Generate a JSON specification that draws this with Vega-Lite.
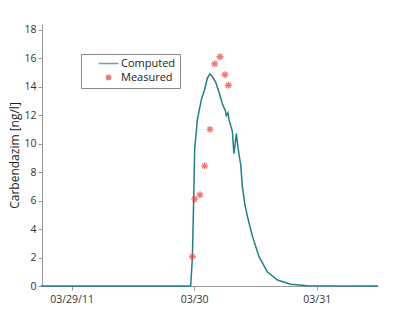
{
  "$schema": "https://vega.github.io/schema/vega-lite/v6.json",
  "autosize": "none",
  "width": 336,
  "height": 262,
  "padding": {"left": 42, "top": 24, "right": 22, "bottom": 39},
  "background": "white",
  "config": {
    "view": {"stroke": null},
    "font": "Open Sans",
    "axis": {"domainColor": "#999", "tickColor": "#999", "tickSize": 4, "labelColor": "#333", "labelFontSize": 10.5, "titleColor": "#222", "grid": false}
  },
  "datasets": {
    "computed": [
      {"t": "2011-03-28T18:00:00Z", "v": 0, "series": "Computed"},
      {"t": "2011-03-29T23:19:00Z", "v": 0, "series": "Computed"},
      {"t": "2011-03-29T23:39:00Z", "v": 2.0, "series": "Computed"},
      {"t": "2011-03-29T23:50:00Z", "v": 4.9, "series": "Computed"},
      {"t": "2011-03-29T23:58:00Z", "v": 7.2, "series": "Computed"},
      {"t": "2011-03-30T00:06:00Z", "v": 9.6, "series": "Computed"},
      {"t": "2011-03-30T00:38:00Z", "v": 11.7, "series": "Computed"},
      {"t": "2011-03-30T01:25:00Z", "v": 13.1, "series": "Computed"},
      {"t": "2011-03-30T02:03:00Z", "v": 13.8, "series": "Computed"},
      {"t": "2011-03-30T02:35:00Z", "v": 14.6, "series": "Computed"},
      {"t": "2011-03-30T03:06:00Z", "v": 14.9, "series": "Computed"},
      {"t": "2011-03-30T03:34:00Z", "v": 14.7, "series": "Computed"},
      {"t": "2011-03-30T04:13:00Z", "v": 14.3, "series": "Computed"},
      {"t": "2011-03-30T04:52:00Z", "v": 13.6, "series": "Computed"},
      {"t": "2011-03-30T05:31:00Z", "v": 12.8, "series": "Computed"},
      {"t": "2011-03-30T06:10:00Z", "v": 12.25, "series": "Computed"},
      {"t": "2011-03-30T06:18:00Z", "v": 11.95, "series": "Computed"},
      {"t": "2011-03-30T06:37:00Z", "v": 12.15, "series": "Computed"},
      {"t": "2011-03-30T06:49:00Z", "v": 11.7, "series": "Computed"},
      {"t": "2011-03-30T07:29:00Z", "v": 10.85, "series": "Computed"},
      {"t": "2011-03-30T07:47:00Z", "v": 9.3, "series": "Computed"},
      {"t": "2011-03-30T08:16:00Z", "v": 10.7, "series": "Computed"},
      {"t": "2011-03-30T08:35:00Z", "v": 9.7, "series": "Computed"},
      {"t": "2011-03-30T09:07:00Z", "v": 8.5, "series": "Computed"},
      {"t": "2011-03-30T09:26:00Z", "v": 7.0, "series": "Computed"},
      {"t": "2011-03-30T09:54:00Z", "v": 5.8, "series": "Computed"},
      {"t": "2011-03-30T10:25:00Z", "v": 4.9, "series": "Computed"},
      {"t": "2011-03-30T11:24:00Z", "v": 3.5, "series": "Computed"},
      {"t": "2011-03-30T12:42:00Z", "v": 2.06, "series": "Computed"},
      {"t": "2011-03-30T14:20:00Z", "v": 1.0, "series": "Computed"},
      {"t": "2011-03-30T16:18:00Z", "v": 0.42, "series": "Computed"},
      {"t": "2011-03-30T18:54:00Z", "v": 0.12, "series": "Computed"},
      {"t": "2011-03-30T22:11:00Z", "v": 0.02, "series": "Computed"},
      {"t": "2011-03-31T12:00:00Z", "v": 0, "series": "Computed"}
    ],
    "measured": [
      {"t": "2011-03-29T23:39:00Z", "v": 2.06, "series": "Measured"},
      {"t": "2011-03-30T00:06:00Z", "v": 6.1, "series": "Measured"},
      {"t": "2011-03-30T01:08:00Z", "v": 6.4, "series": "Measured"},
      {"t": "2011-03-30T02:03:00Z", "v": 8.44, "series": "Measured"},
      {"t": "2011-03-30T03:06:00Z", "v": 11.0, "series": "Measured"},
      {"t": "2011-03-30T04:01:00Z", "v": 15.6, "series": "Measured"},
      {"t": "2011-03-30T05:03:00Z", "v": 16.1, "series": "Measured"},
      {"t": "2011-03-30T06:02:00Z", "v": 14.84, "series": "Measured"},
      {"t": "2011-03-30T06:42:00Z", "v": 14.1, "series": "Measured"}
    ]
  },
  "encoding": {
    "x": {
      "field": "t", "type": "temporal",
      "scale": {"type": "utc", "domain": [{"year": 2011, "month": 3, "date": 28, "hours": 18, "minutes": 12, "utc": true}, {"year": 2011, "month": 3, "date": 31, "hours": 12, "utc": true}]},
      "axis": {
        "title": null,
        "values": [{"year": 2011, "month": 3, "date": 29, "utc": true}, {"year": 2011, "month": 3, "date": 30, "utc": true}, {"year": 2011, "month": 3, "date": 31, "utc": true}],
        "labelExpr": "utcFormat(datum.value, '%d') == '29' ? '03/29/11' : utcFormat(datum.value, '%m/%d')",
        "labelPadding": 4
      }
    },
    "y": {
      "field": "v", "type": "quantitative",
      "scale": {"domain": [0, 18.4], "nice": false},
      "axis": {"title": "Carbendazim [ng/l]", "values": [0, 2, 4, 6, 8, 10, 12, 14, 16, 18], "titleFontSize": 12, "titleFontWeight": "normal", "titlePadding": 2}
    }
  },
  "layer": [
    {
      "data": {"name": "computed"},
      "mark": {"type": "line", "strokeWidth": 1.5, "color": "#237e86"}
    },
    {
      "data": {"name": "measured"},
      "mark": {"type": "point", "filled": false, "size": 49, "strokeWidth": 1.3},
      "encoding": {
        "color": {
          "field": "series", "type": "nominal",
          "scale": {"domain": ["Computed", "Measured"], "range": ["#237e86", "#e8413c"]},
          "legend": {
            "title": null, "orient": "none", "legendX": 39, "legendY": 30,
            "strokeColor": "#888", "fillColor": "white", "padding": 4,
            "labelFontSize": 11, "labelColor": "#222", "symbolOffset": 18, "labelOffset": 7,
            "symbolStrokeWidth": 1.5, "symbolSize": 36, "rowPadding": 2
          }
        },
        "shape": {
          "field": "series", "type": "nominal",
          "scale": {"domain": ["Computed", "Measured"], "range": ["M-3.3,0L3.3,0", "M-1,0L1,0M0,-1L0,1M-0.7,-0.7L0.7,0.7M-0.7,0.7L0.7,-0.7"]},
          "legend": {
            "title": null, "orient": "none", "legendX": 39, "legendY": 30,
            "strokeColor": "#888", "fillColor": "white", "padding": 4,
            "labelFontSize": 11, "labelColor": "#222", "symbolOffset": 18, "labelOffset": 7,
            "symbolStrokeWidth": 1.5, "symbolSize": 36, "rowPadding": 2
          }
        }
      }
    }
  ]
}
